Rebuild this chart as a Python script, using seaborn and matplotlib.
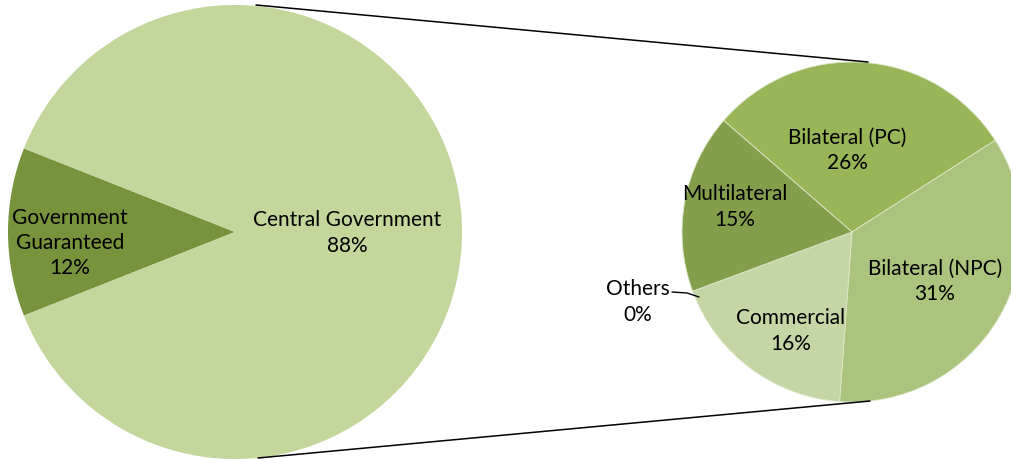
import numpy as np
import matplotlib
matplotlib.use("Agg")
import matplotlib.pyplot as plt
import seaborn as sns

# data: outer split and breakdown of central government debt (% of total)
main_labels = ['Government\nGuaranteed', 'Central Government']
main_values = [12, 88]
main_colors = ['#77933C', '#C3D69B']

sub_labels = ['Bilateral (PC)', 'Bilateral (NPC)', 'Commercial', 'Others', 'Multilateral']
sub_values = [26, 31, 16, 0, 15]
sub_colors = ['#98B657', '#AAC47D', '#C4D5A6', '#B0C890', '#839F4B']

sns.set_theme(style="white")
plt.rcParams['font.family'] = ['Lato', 'DejaVu Sans']

W, H = 1012, 460
fig = plt.figure(figsize=(W / 100, H / 100), dpi=100)
ax = fig.add_axes([0, 0, 1, 1])

def py(y):
    # image-style y (top down) -> axis y
    return H - y

# big pie, guaranteed slice centred on the left
c1, r1 = (235, py(233)), 227
start1 = 180 + main_values[0] / 100 * 360 / 2
ax.pie(main_values, colors=main_colors, startangle=start1, counterclock=False,
       center=c1, radius=r1, frame=True, wedgeprops=dict(linewidth=0))

# small pie
c2, r2 = (852, py(233)), 170
ax.pie(sub_values, colors=sub_colors, startangle=139, counterclock=False,
       center=c2, radius=r2, frame=True,
       wedgeprops=dict(linewidth=0.6, edgecolor='#DDE8C8'))
ax.set_xlim(0, W)
ax.set_ylim(0, H)
ax.set_aspect('equal')
ax.axis('off')

# connector lines
ax.plot([256, 868], [py(6), py(63)], color='black', lw=1.1)
ax.plot([258, 870], [py(459), py(402)], color='black', lw=1.1)

fs = 15
def lab(x, y, name, val):
    ax.text(x, py(y), f"{name}\n{val}%", ha='center', va='center',
            fontsize=fs, linespacing=1.32, color='black')

lab(70, 243, main_labels[0], main_values[0])
lab(347, 233, main_labels[1], main_values[1])
lab(847, 150, sub_labels[0], sub_values[0])
lab(935, 281, sub_labels[1], sub_values[1])
lab(791, 331, sub_labels[2], sub_values[2])
lab(638, 302, sub_labels[3], sub_values[3])
lab(735, 207, sub_labels[4], sub_values[4])

# leader for the zero slice
ax.plot([672, 687, 699], [py(293), py(294), py(298)], color='black', lw=1)

fig.savefig('out.png', dpi=100)
